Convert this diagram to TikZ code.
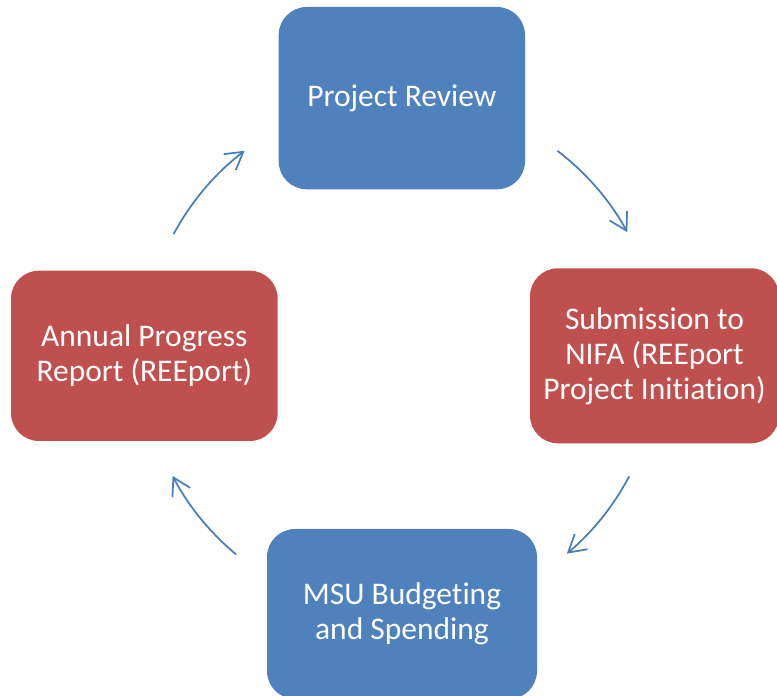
\documentclass[tikz,border=0pt]{standalone}
\usepackage{fontspec}
\setmainfont[Ligatures={NoCommon}]{Carlito}
\usetikzlibrary{arrows.meta}
\definecolor{stageblue}{HTML}{4F81BD}
\definecolor{stagered}{HTML}{C0504D}
\definecolor{cyclearrow}{HTML}{4A7EBB}
\begin{document}
\begin{tikzpicture}[x=1pt,y=1pt,
  stagebox/.style={rounded corners=28pt, inner sep=0pt, text=white,
    align=center, font=\fontsize{31.5}{35}\selectfont},
  cyc/.style={draw=cyclearrow, line width=1.75pt,
    -{Straight Barb[length=17pt,width=20pt]}}]
\useasboundingbox (0,0) rectangle (777,696);
\clip (0,0) rectangle (777,696);

% the four stages of the cycle
\node[stagebox, fill=stageblue, minimum width=246.3pt, minimum height=182.3pt]
  (review) at (401.85,597.85) {Project Review};
\node[stagebox, fill=stagered, minimum width=249pt, minimum height=175pt]
  (submit) at (654.5,340.2) {Submission to\\NIFA (REEport\\Project Initiation)};
\node[stagebox, fill=stageblue, minimum width=270pt, minimum height=170pt]
  (budget) at (402,82) {MSU Budgeting\\and Spending};
\node[stagebox, fill=stagered, minimum width=266.7pt, minimum height=170.3pt]
  (annual) at (144.35,340.15) {Annual Progress\\Report (REEport)};

% clockwise arrows on a circle round the middle
\coordinate (hub) at (401,340);
\coordinate (a1) at ([shift={(151.8:258)}]hub);
\coordinate (a2) at ([shift={(52.7:258)}]hub);
\coordinate (a3) at ([shift={(-27.8:258)}]hub);
\coordinate (a4) at ([shift={(-129.7:258)}]hub);
\draw[cyc] (a1) arc[start angle=151.8, end angle=127.3, radius=258];
\draw[cyc] (a2) arc[start angle=52.7, end angle=28.7, radius=258];
\draw[cyc] (a3) arc[start angle=-27.8, end angle=-50, radius=258];
\draw[cyc] (a4) arc[start angle=-129.7, end angle=-152.3, radius=258];
\end{tikzpicture}
\end{document}
